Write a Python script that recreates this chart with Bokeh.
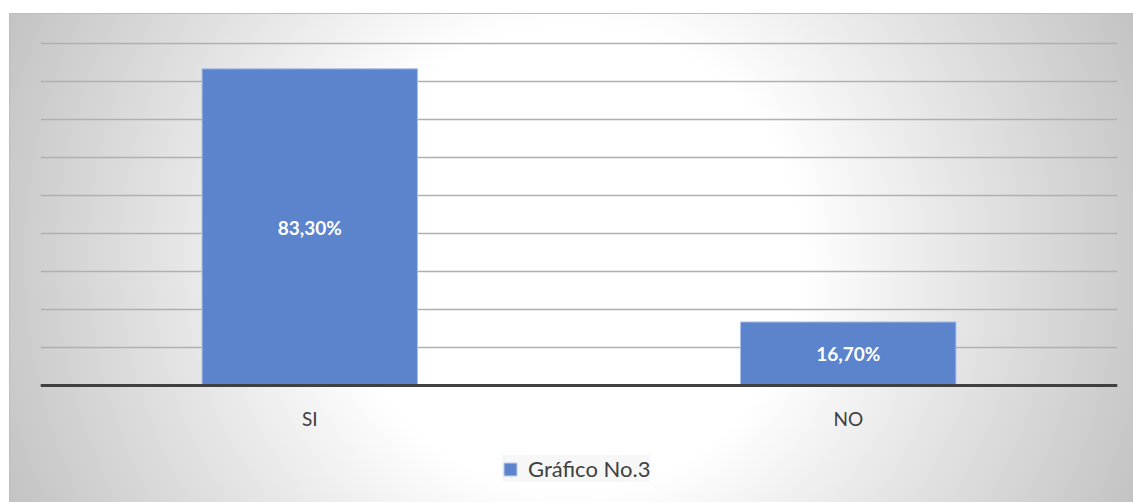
from bokeh.plotting import figure
from bokeh.models import (ColumnDataSource, Legend, LegendItem, SingleIntervalTicker,
                          LabelSet, Span)
from bokeh.core.properties import value
from bokeh.embed import file_html
from bokeh.resources import INLINE

categories = ["SI", "NO"]
values = [83.3, 16.7]
labels = ["83,30%", "16,70%"]
series_name = "Gráfico No.3"

src = ColumnDataSource(dict(cat=categories, val=values, half=[v / 2 for v in values],
                            lab=labels, zero=[0] * len(categories)))

p = figure(x_range=categories, y_range=(-30.8, 90.5), width=1124, height=489,
           output_backend="svg", toolbar_location=None,
           min_border_left=31, min_border_right=16, min_border_top=28, min_border_bottom=0)
p.margin = (13, 0, 0, 9)
p.styles = {
    "background-image": "radial-gradient(circle 620px at 50% 50%, #ffffff 0px, #ffffff 230px, #c2c2c2 620px)",
    "box-shadow": "inset 1px 1px 0 #bdbdbd",
}
p.border_fill_color = None
p.background_fill_color = None
p.outline_line_color = None

bars = p.vbar(x="cat", top="val", width=0.4, source=src, fill_color="#5b84cd",
              line_color="#a9bde6", line_width=1)

p.yaxis.visible = False
p.xaxis.visible = False
p.ygrid.ticker = SingleIntervalTicker(interval=10)
p.ygrid.bounds = (0, 90)
p.ygrid.grid_line_color = "#b0b0b0"
p.ygrid.grid_line_width = 1.5
p.xgrid.visible = False

baseline = Span(location=0, dimension="width", line_color="#404040", line_width=3)
p.add_layout(baseline)

cat_lbl = LabelSet(x="cat", y="zero", text="cat", source=src, text_align="center",
                   text_baseline="middle", y_offset=-33, text_color="#404040",
                   text_font=value("Lato"), text_font_size="19px")
p.add_layout(cat_lbl)

lbl = LabelSet(x="cat", y="half", text="lab", source=src, text_align="center",
               text_baseline="middle", text_color="white", text_font=value("Lato"),
               text_font_style="bold", text_font_size="19px")
p.add_layout(lbl)

legend = Legend(items=[LegendItem(label=series_name, renderers=[bars])],
                location=(462, 20), margin=0, padding=14,
                glyph_width=16, glyph_height=16, label_standoff=10, label_height=16,
                label_text_font="Lato", label_text_font_size="22px",
                label_text_color="#404040",
                background_fill_color="#f7f7f7", background_fill_alpha=1.0,
                border_line_color=None)
p.add_layout(legend, "center")

open("out.html", "w").write(file_html(p, INLINE))
